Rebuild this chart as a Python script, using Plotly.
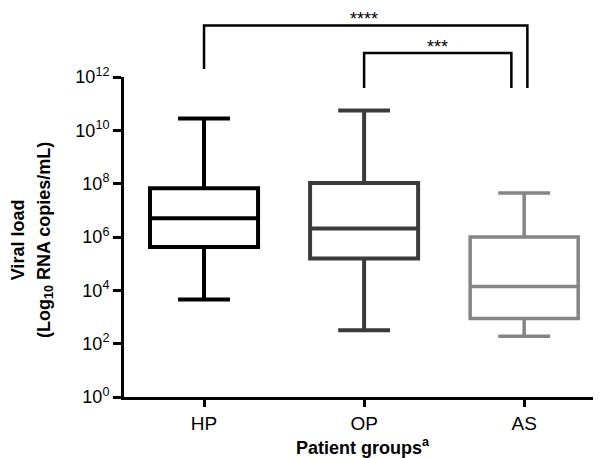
import plotly.graph_objects as go

groups = ["HP", "OP", "AS"]
lower_whisker = [4.5e3, 3.2e2, 1.9e2]
q1_vals = [4.2e5, 1.55e5, 8.7e2]
median_vals = [5.0e6, 2.1e6, 1.4e4]
q3_vals = [6.8e7, 1.05e8, 1.0e6]
upper_whisker = [2.8e10, 5.6e10, 4.5e7]
colors = ["#000000", "#3b3b3b", "#858585"]
line_widths = [4, 4, 3.5]

ytick_exps = [0, 2, 4, 6, 8, 10, 12]
ytitle_lines = ["<b>Viral load</b>", "<b>(Log<sub>10</sub> RNA copies/mL)</b>"]

fig = go.Figure()
for i, g in enumerate(groups):
    fig.add_trace(go.Box(
        x=[i],
        q1=[q1_vals[i]], median=[median_vals[i]], q3=[q3_vals[i]],
        lowerfence=[lower_whisker[i]], upperfence=[upper_whisker[i]],
        name=g,
        width=0.675,
        whiskerwidth=0.48,
        line=dict(color=colors[i], width=line_widths[i]),
        fillcolor="rgba(255,255,255,0)",
        boxpoints=False,
        showlegend=False,
        hoverinfo="skip",
    ))

# significance brackets: (left x, right x, top, left foot, right foot, label, label x)
brackets = [
    (0, 2.02, 1.161, 1.025, 0.966, "****", 1.0),
    (1, 1.92, 1.075, 0.966, 0.966, "***", 1.46),
]
for xa, xb, top, fa, fb, lab, lx in brackets:
    fig.add_shape(type="path", xref="x", yref="paper",
                  path=f"M {xa},{fa} L {xa},{top} L {xb},{top} L {xb},{fb}",
                  line=dict(color="black", width=2.5))
    fig.add_annotation(x=lx, y=top, xref="x", yref="paper",
                       text=lab, showarrow=False, yanchor="bottom", yshift=-6,
                       font=dict(size=18, color="black", family="Liberation Sans, Arial"))

# y-axis title as two rotated lines
for txt, px in zip(ytitle_lines, [-0.222, -0.166]):
    fig.add_annotation(x=px, y=0.49, xref="paper", yref="paper", text=txt,
                       textangle=-90, showarrow=False, xanchor="center", yanchor="middle",
                       font=dict(size=18, color="black", family="Liberation Sans, Arial"))

fig.update_layout(
    width=593, height=450,
    margin=dict(l=116, r=0, t=69, b=61, autoexpand=False),
    paper_bgcolor="white", plot_bgcolor="white",
    font=dict(family="Liberation Sans, Arial", size=18, color="black"),
    xaxis=dict(
        tickmode="array", tickvals=[0, 1, 2], ticktext=groups,
        range=[-0.5, 2.48],
        showline=True, linecolor="black", linewidth=3,
        ticks="outside", ticklen=7, tickwidth=3, tickcolor="black",
        showgrid=False, zeroline=False, automargin=False,
        tickfont=dict(size=19),
        title=dict(text="<b>Patient groups<sup>a</sup></b>", font=dict(size=18), standoff=16),
    ),
    yaxis=dict(
        type="log", range=[0, 12],
        tickmode="array",
        tickvals=[10 ** e for e in ytick_exps],
        ticktext=[f"10<sup>{e}</sup>" for e in ytick_exps],
        showline=True, linecolor="black", linewidth=3,
        ticks="outside", ticklen=8, tickwidth=3, tickcolor="black",
        showgrid=False, zeroline=False, automargin=False,
        tickfont=dict(size=18),
    ),
)

fig.write_html("out.html")
